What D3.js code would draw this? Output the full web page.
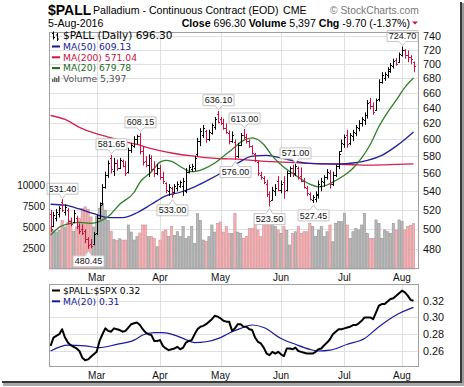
<!DOCTYPE html>
<html>
<head>
<meta charset="utf-8">
<script src="https://cdn.jsdelivr.net/npm/d3@7"></script>
<style>
  body { margin: 0; background: #fff; }
  svg { display: block; font-family: "Liberation Sans", Arial, sans-serif; }
</style>
</head>
<body>
<div id="chart"></div>
<script>
// trading days, 2016 (MM-DD)
var days = ("02-05 02-08 02-09 02-10 02-11 02-12 02-16 02-17 02-18 02-19 02-22 02-23 02-24 02-25 02-26 02-29 " +
  "03-01 03-02 03-03 03-04 03-07 03-08 03-09 03-10 03-11 03-14 03-15 03-16 03-17 03-18 03-21 03-22 03-23 03-24 03-28 03-29 03-30 03-31 " +
  "04-01 04-04 04-05 04-06 04-07 04-08 04-11 04-12 04-13 04-14 04-15 04-18 04-19 04-20 04-21 04-22 04-25 04-26 04-27 04-28 04-29 " +
  "05-02 05-03 05-04 05-05 05-06 05-09 05-10 05-11 05-12 05-13 05-16 05-17 05-18 05-19 05-20 05-23 05-24 05-25 05-26 05-27 05-31 " +
  "06-01 06-02 06-03 06-06 06-07 06-08 06-09 06-10 06-13 06-14 06-15 06-16 06-17 06-20 06-21 06-22 06-23 06-24 06-27 06-28 06-29 06-30 " +
  "07-01 07-05 07-06 07-07 07-08 07-11 07-12 07-13 07-14 07-15 07-18 07-19 07-20 07-21 07-22 07-25 07-26 07-27 07-28 07-29 " +
  "08-01 08-02 08-03 08-04 08-05").split(" ");

var months = [["03", "Mar"], ["04", "Apr"], ["05", "May"], ["06", "Jun"], ["07", "Jul"], ["08", "Aug"]];

var open = [516,503,512,516,528,518,520,508,507,512,503,500,498,490,485,485,
  496,512,527,545,558,578,563,572,566,574,568,562,587,592,600,604,586,574,570,578,565,560,
  566,556,549,540,544,539,544,546,546,540,562,565,566,582,598,605,610,600,608,616,632,
  625,620,614,608,598,597,580,593,606,603,598,592,582,573,558,555,548,537,531,540,552,
  541,550,542,560,566,560,566,557,552,544,537,531,532,536,546,550,556,560,548,558,568,586,
  594,606,596,604,608,614,620,624,630,648,642,637,652,675,680,684,690,697,705,702,
  713,719,713,709,702];
var high = [520,518,521,524,531.4,526,522,512,520,514,506,505,500,492,490,497,
  515,528,548,562,575,581.65,578,576,578,576,574,590,596,604,606,608.15,592,580,582,581,574,571,
  570,562,550,548,545,548,551,552,555,566,570,571,580,602,614,618,612,612,620,628,636.1,
  628,626,620,611,610,600,596,608,613,607,600,593,584,575,562,557,553,540,545,548,557,
  552,557,563,568,570,571,568,567,555,546,539,536,540,552,555,558,565,564,562,570,586,600,
  606,612,608,612,618,624,628,634,650,653,647,652,678,688,688,695,701,707,708,716,
  724.7,721,719,712,703];
var low = [497,502,508,512,518,514,505,503,506,500,495,494,486,480.45,481,484,
  494,510,525,543,555,560,557,563,565,567,557,560,584,590,594,582,569,567,556,562,556,558,
  553,548,538,535,533,538,540,544,535,538,560,562,563,580,592,602,596,598,606,612,620,
  618,612,607,594,596,576,578,592,600,595,590,582,573,557,553,548,534,523.5,530,535,540,
  538,532,540,556,556,557,553,550,543,535,530,527.45,528,532,540,545,553,543,546,556,565,585,
  590,590,593,598,604,610,616,618,626,638,631,636,648,672,676,680,687,693,697,701,
  710,707,702,699,688];
var close = [500,515,518,522,520,523,508,505,517,503,498,496,490,484,483,495,
  512,525,545,558,572,565,572,566,576,569,560,587,593,601,604,586,573,570,578,565,560,566,
  556,551,541,545,537,546,548,550,552,562,567,568,578,598,610,614,600,609,618,625,622,
  620,614,609,598,605,580,593,606,603,598,592,584,575,560,556,550,537,530,542,544,542,
  548,540,560,566,560,568,556,552,545,538,532,534,537,548,552,556,562,548,558,568,583,596,
  603,595,605,609,615,621,625,631,646,642,635,650,674,684,686,692,698,704,700,714,
  720,712,710,706,696.3];
var volume = [5000,4600,4400,4600,5800,5000,5500,5800,4500,5000,
  6000,7200,7400,7100,6200,5000,6300,7200,7800,7000,
  5800,4500,3500,3400,3600,3450,3450,5240,4400,3450,
  3850,4280,5240,5240,3850,3850,3650,2650,3450,4440,
  4640,3850,5040,4000,4440,3850,5040,3650,3850,5040,
  3050,6600,5800,3450,3300,3850,5240,4400,5440,5600,
  4400,5040,4250,4240,6600,4400,4250,3650,3850,4840,
  4840,5440,4640,3850,5440,6000,6430,5440,5040,4640,
  4250,5040,4600,2860,4250,4440,5040,4250,4440,4440,
  5440,5040,3850,4640,5040,3850,4440,5240,3250,5440,
  5640,5640,6630,5240,3650,4440,4840,4640,5240,6630,
  4250,3650,3650,5840,5440,3650,4640,4440,4250,5440,
  4640,5840,5640,4640,5040,5200,5397];

// moving averages at these bar positions
var ma20At = [0,3,7,10,14,17,20,24,29,31,35,38,40,42,45,49,53,57,60,63,67,70,74,77,81,85,90,93,96,99,102,105,108,111,114,117,120,123,126];
var ma20 = [494,502,506,507,506,508,513,526,539,550,562,573,575,574,568,562,565,572,580,588,599,602,594,580,567,558,548,545,547,552,558,566,578,594,616,634,650,667,679.78];
var ma50At = [0,5,10,15,20,25,30,35,40,45,50,55,60,65,70,75,80,85,90,95,100,105,110,115,120,123,126];
var ma50 = [526,525,521,516,512,512,517,526,535,539,545,553,562,572,580,581,578,574,571.5,571,571,572,575,581,592,600,609.13];
var ma200At = [0,5,10,15,20,25,30,35,40,45,50,55,60,65,70,75,80,85,90,95,100,105,110,115,120,126];
var ma200 = [630,625,615,608,603,598,594,589,585,582,580,578,577,576.5,575,574,573,572.5,571.5,571,570.5,570,569.5,569.8,570.5,571.04];

// $PALL:$SPX ratio
var ratio = [.266,.276,.278,.280,.286,.276,.270,.267,.265,.263,.260,.252,.249,.250,.253,.256,
  .259,.272,.280,.287,.284,.283,.287,.286,.285,.283,.284,.288,.292,.293,.294,.291,.286,.282,.280,.279,.272,.272,
  .273,.266,.263,.261,.262,.263,.265,.262,.264,.270,.272,.273,.280,.286,.289,.290,.292,.295,.298,.302,.301,
  .299,.296,.295,.295,.284,.287,.292,.292,.289,.289,.286,.285,.276,.271,.269,.264,.257,.255,.259,.257,.259,
  .256,.254,.263,.263,.262,.264,.260,.259,.258,.257,.257,.257,.259,.262,.263,.267,.270,.274,.280,.283,.286,.286,
  .287,.288,.289,.291,.291,.293,.296,.300,.300,.300,.298,.306,.314,.316,.316,.319,.322,.323,.326,.329,
  .332,.330,.326,.321,.320];
var ratioMaAt = [0,6,12,17,23,29,32,36,39,43,46,50,54,59,63,66,70,74,80,85,90,93,97,103,109,114,120,126];
var ratioMa = [.260,.267,.266,.264,.268,.273,.279,.282,.282,.279,.275,.270,.271,.276,.283,.287,.291,.288,.275,.268,.262,.260,.261,.268,.275,.289,.303,.312];

var priceTicks = [480,500,520,540,560,580,600,620,640,660,680,700,720,740];
var volTicks = [2500,5000,7500,10000];
var ratioTicks = [0.26,0.28,0.30,0.32];

// labelled highs and lows
var calloutAt = [4,13,21,31,42,58,64,67,76,85,91,122];
var calloutSide = ["H","L","H","H","L","H","L","H","L","H","L","H"];

var W = 464, H = 387;
var left = 49, right = 419;
var top1 = 32, bot1 = 269, top2 = 284, bot2 = 367;

var red = "#cc1040";

var svg = d3.select("#chart").append("svg")
    .attr("width", W)
    .attr("height", H);

svg.append("rect").attr("width", W).attr("height", H).attr("fill", "#fff");

// drop shadow on right / bottom
svg.append("rect").attr("x", 460).attr("y", 2).attr("width", 2).attr("height", 380).attr("fill", "#3a3a3a");
svg.append("rect").attr("x", 462).attr("y", 3).attr("width", 2).attr("height", 381).attr("fill", "#9a9a9a");
svg.append("rect").attr("x", 2).attr("y", 381).attr("width", 460).attr("height", 2).attr("fill", "#3a3a3a");
svg.append("rect").attr("x", 3).attr("y", 383).attr("width", 461).attr("height", 3).attr("fill", "#a8a8a8");

var n = close.length;
var x = d3.scaleLinear().domain([0, n - 1]).range([50.6, 413.5]);
var y = d3.scaleLog().domain([480, 740]).range([249.3, 36.3]);
var yv = d3.scaleLinear().domain([0, 10000]).range([bot1, 185]);
var yr = d3.scaleLinear().domain([0.26, 0.32]).range([351, 300.7]);

var monthIdx = months.map(function(m) {
  return { name: m[1], i: days.findIndex(function(d) { return d.slice(0, 2) == m[0]; }) };
});

var isDown = close.map(function(c, i) { return i == 0 ? c < open[0] : c < close[i - 1]; });

var defs = svg.append("defs");
defs.append("clipPath").attr("id", "clip1").append("rect")
    .attr("x", left).attr("y", top1).attr("width", right - left).attr("height", bot1 - top1);
defs.append("clipPath").attr("id", "clip2").append("rect")
    .attr("x", left).attr("y", top2).attr("width", right - left).attr("height", bot2 - top2);

// ---------- header ----------
svg.append("text").attr("x", 48).attr("y", 14.5)
    .attr("font-size", 14).attr("font-weight", "bold").attr("fill", "#000").text("$PALL");
svg.append("text").attr("x", 93).attr("y", 13.5)
    .attr("font-size", 10.6).attr("fill", "#000").text("Palladium - Continuous Contract (EOD)");
svg.append("text").attr("x", 283).attr("y", 13.5)
    .attr("font-size", 10.6).attr("fill", "#000").text("CME");
svg.append("text").attr("x", 330).attr("y", 13.5)
    .attr("font-size", 10.3).attr("fill", "#777").text("\u00a9 StockCharts.com");
svg.append("text").attr("x", 48).attr("y", 26.5)
    .attr("font-size", 10.6).attr("fill", "#000").text("5-Aug-2016");

var info = svg.append("text").attr("x", 410).attr("y", 26.5)
    .attr("text-anchor", "end").attr("font-size", 10.6).attr("fill", "#000");
info.append("tspan").attr("font-weight", "bold").text("Close ");
info.append("tspan").text(d3.format(".2f")(close[n - 1]) + "  ");
info.append("tspan").attr("font-weight", "bold").text("Volume ");
info.append("tspan").text(d3.format(",")(volume[n - 1]) + "  ");
info.append("tspan").attr("font-weight", "bold").text("Chg ");
info.append("tspan").text("-9.70 (-1.37%)");
svg.append("path").attr("d", "M412,21.5 L418,21.5 L415,24.5 Z").attr("fill", red);

// ---------- panel 1 ----------
var g1 = svg.append("g");

g1.selectAll(".hg").data(priceTicks).enter().append("line")
    .attr("x1", left).attr("x2", right)
    .attr("y1", function(d) { return Math.round(y(d)) + 0.5; })
    .attr("y2", function(d) { return Math.round(y(d)) + 0.5; })
    .attr("stroke", "#e0e0e0");
g1.selectAll(".vg").data(monthIdx).enter().append("line")
    .attr("x1", function(d) { return Math.round(x(d.i)) + 0.5; })
    .attr("x2", function(d) { return Math.round(x(d.i)) + 0.5; })
    .attr("y1", top1).attr("y2", bot1)
    .attr("stroke", "#e0e0e0");

// volume
var bw = (x(1) - x(0));
g1.append("g").selectAll("rect").data(volume).enter().append("rect")
    .attr("x", function(d, i) { return x(i) - bw / 2 + 0.3; })
    .attr("width", bw - 0.6)
    .attr("y", function(d) { return yv(d); })
    .attr("height", function(d) { return bot1 - yv(d); })
    .attr("fill", function(d, i) { return isDown[i] ? "#f1b3b6" : "#b9b9b9"; })
    .attr("stroke", function(d, i) { return isDown[i] ? "#d98d92" : "#959595"; })
    .attr("stroke-width", 0.6);

// moving averages
var curve = d3.line().curve(d3.curveMonotoneX)
    .x(function(d) { return x(d[0]); })
    .y(function(d) { return y(d[1]); });
function pairs(at, vals) { return at.map(function(a, k) { return [a, vals[k]]; }); }

var maG = g1.append("g").attr("clip-path", "url(#clip1)");
maG.append("path").attr("d", curve(pairs(ma200At, ma200)))
    .attr("fill", "none").attr("stroke", "#d8204f").attr("stroke-width", 1.3);
maG.append("path").attr("d", curve(pairs(ma50At, ma50)))
    .attr("fill", "none").attr("stroke", "#22229a").attr("stroke-width", 1.3);
maG.append("path").attr("d", curve(pairs(ma20At, ma20)))
    .attr("fill", "none").attr("stroke", "#2f7f2a").attr("stroke-width", 1.3);

// OHLC bars
var bars = g1.append("g").attr("clip-path", "url(#clip1)");
close.forEach(function(c, i) {
  var px = Math.round(x(i)) + 0.5;
  var col = isDown[i] ? red : "#000";
  bars.append("line").attr("x1", px).attr("x2", px)
      .attr("y1", y(high[i])).attr("y2", y(low[i])).attr("stroke", col);
  bars.append("line").attr("x1", px - 1.5).attr("x2", px)
      .attr("y1", Math.round(y(open[i])) + 0.5).attr("y2", Math.round(y(open[i])) + 0.5).attr("stroke", col);
  bars.append("line").attr("x1", px).attr("x2", px + 1.5)
      .attr("y1", Math.round(y(c)) + 0.5).attr("y2", Math.round(y(c)) + 0.5).attr("stroke", col);
});

// callouts
calloutAt.forEach(function(i, k) {
  var isHigh = calloutSide[k] == "H";
  var v = isHigh ? high[i] : low[i];
  var cx = Math.round(x(i)) + 0.5;
  var bwid = 31, bh = 11;
  var x0 = cx - bwid / 2, x1 = cx + bwid / 2, d;
  var tip, y0, y1;
  if (isHigh) {
    tip = y(v) - 1; y1 = tip - 4; y0 = y1 - bh;
    d = "M" + x0 + "," + y0 + "H" + x1 + "V" + y1 + "H" + (cx + 3.5) + "L" + cx + "," + tip +
        "L" + (cx - 3.5) + "," + y1 + "H" + x0 + "Z";
  } else {
    tip = y(v) + 2; y0 = tip + 5; y1 = y0 + bh;
    d = "M" + x0 + "," + y0 + "H" + (cx - 3.5) + "L" + cx + "," + tip + "L" + (cx + 3.5) + "," + y0 +
        "H" + x1 + "V" + y1 + "H" + x0 + "Z";
  }
  g1.append("path").attr("d", d).attr("fill", "#fff").attr("stroke", "#c4c4c4");
  g1.append("text").attr("x", cx).attr("y", y0 + 8.6)
      .attr("text-anchor", "middle").attr("font-size", 9).attr("fill", "#111")
      .text(d3.format(".2f")(v));
});

// frame
g1.append("rect").attr("x", left + 0.5).attr("y", top1 + 0.5)
    .attr("width", right - left - 1).attr("height", bot1 - top1 - 1)
    .attr("fill", "none").attr("stroke", "#a0a0a0");

// axes
g1.selectAll(".pt").data(priceTicks).enter().append("text")
    .attr("x", 423).attr("y", function(d) { return y(d) + 4; })
    .attr("font-size", 10.8).attr("fill", "#111").text(function(d) { return d; });
g1.selectAll(".vt").data(volTicks).enter().append("text")
    .attr("x", 45).attr("y", function(d) { return yv(d) + 3.5; })
    .attr("text-anchor", "end").attr("font-size", 10).attr("fill", "#111")
    .text(function(d) { return d; });
g1.selectAll(".mt").data(monthIdx).enter().append("text")
    .attr("x", function(d) { return x(d.i); }).attr("y", 281)
    .attr("text-anchor", "middle").attr("font-size", 10).attr("fill", "#111")
    .text(function(d) { return d.name; });

// legend
var lg = svg.append("g").attr("font-family", "'DejaVu Sans', Verdana, sans-serif");
lg.append("path").attr("d", "M53.5,31.5V39.5M52,33.5H53.5M53.5,37.5H55M57.5,33V41M56,35H57.5M57.5,39H59")
    .attr("stroke", "#000").attr("fill", "none");
lg.append("text").attr("x", 63).attr("y", 39).attr("font-size", 10.5).attr("fill", "#000")
    .text("$PALL (Daily) " + d3.format(".2f")(close[n - 1]));
var legItems = [
  ["MA(50) " + d3.format(".2f")(ma50[ma50.length - 1]), "#1a1a90"],
  ["MA(200) " + d3.format(".2f")(ma200[ma200.length - 1]), red],
  ["MA(20) " + d3.format(".2f")(ma20[ma20.length - 1]), "#1a6a1a"]
];
legItems.forEach(function(it, k) {
  var ly = 46.5 + k * 10.8;
  lg.append("line").attr("x1", 52).attr("x2", 60).attr("y1", ly).attr("y2", ly)
      .attr("stroke", it[1]).attr("stroke-width", 2);
  lg.append("text").attr("x", 63).attr("y", ly + 3.3).attr("font-size", 9.2).attr("fill", it[1]).text(it[0]);
});
[3, 5, 4, 6].forEach(function(h, k) {
  lg.append("rect").attr("x", 52 + k * 2).attr("y", 82 - h).attr("width", 1.5).attr("height", h).attr("fill", "#666");
});
lg.append("text").attr("x", 63).attr("y", 81.8).attr("font-size", 9.2).attr("fill", "#555")
    .text("Volume " + d3.format(",")(volume[n - 1]));

// ---------- panel 2 ----------
var g2 = svg.append("g");
g2.selectAll(".hg2").data(ratioTicks).enter().append("line")
    .attr("x1", left).attr("x2", right)
    .attr("y1", function(d) { return Math.round(yr(d)) + 0.5; })
    .attr("y2", function(d) { return Math.round(yr(d)) + 0.5; })
    .attr("stroke", "#e0e0e0");
g2.selectAll(".vg2").data(monthIdx).enter().append("line")
    .attr("x1", function(d) { return Math.round(x(d.i)) + 0.5; })
    .attr("x2", function(d) { return Math.round(x(d.i)) + 0.5; })
    .attr("y1", top2).attr("y2", bot2)
    .attr("stroke", "#e0e0e0");

var rLine = d3.line()
    .x(function(d, i) { return x(i); })
    .y(function(d) { return yr(d); });
var rCurve = d3.line().curve(d3.curveMonotoneX)
    .x(function(d) { return x(d[0]); })
    .y(function(d) { return yr(d[1]); });
var rg = g2.append("g").attr("clip-path", "url(#clip2)");
rg.append("path").attr("d", rCurve(pairs(ratioMaAt, ratioMa)))
    .attr("fill", "none").attr("stroke", "#1a1a9a").attr("stroke-width", 1.2);
rg.append("path").attr("d", rLine(ratio))
    .attr("fill", "none").attr("stroke", "#000").attr("stroke-width", 2).attr("stroke-linejoin", "round");

g2.append("rect").attr("x", left + 0.5).attr("y", top2 + 0.5)
    .attr("width", right - left - 1).attr("height", bot2 - top2 - 1)
    .attr("fill", "none").attr("stroke", "#a0a0a0");

g2.selectAll(".rt").data(ratioTicks).enter().append("text")
    .attr("x", 423).attr("y", function(d) { return yr(d) + 4; })
    .attr("font-size", 10.8).attr("fill", "#111").text(function(d) { return d3.format(".2f")(d); });
g2.selectAll(".mt2").data(monthIdx).enter().append("text")
    .attr("x", function(d) { return x(d.i); }).attr("y", 379)
    .attr("text-anchor", "middle").attr("font-size", 10).attr("fill", "#111")
    .text(function(d) { return d.name; });

var lg2 = svg.append("g").attr("font-family", "'DejaVu Sans', Verdana, sans-serif");
lg2.append("line").attr("x1", 52).attr("x2", 60).attr("y1", 290.5).attr("y2", 290.5)
    .attr("stroke", "#000").attr("stroke-width", 2);
lg2.append("text").attr("x", 63).attr("y", 294).attr("font-size", 9.2).attr("fill", "#000")
    .text("$PALL:$SPX " + d3.format(".2f")(ratio[n - 1]));
lg2.append("line").attr("x1", 52).attr("x2", 60).attr("y1", 301.3).attr("y2", 301.3)
    .attr("stroke", "#1a1a9a").attr("stroke-width", 2);
lg2.append("text").attr("x", 63).attr("y", 304.8).attr("font-size", 9.2).attr("fill", "#1a1a9a")
    .text("MA(20) " + d3.format(".2f")(ratioMa[ratioMa.length - 1]));
</script>
</body>
</html>
